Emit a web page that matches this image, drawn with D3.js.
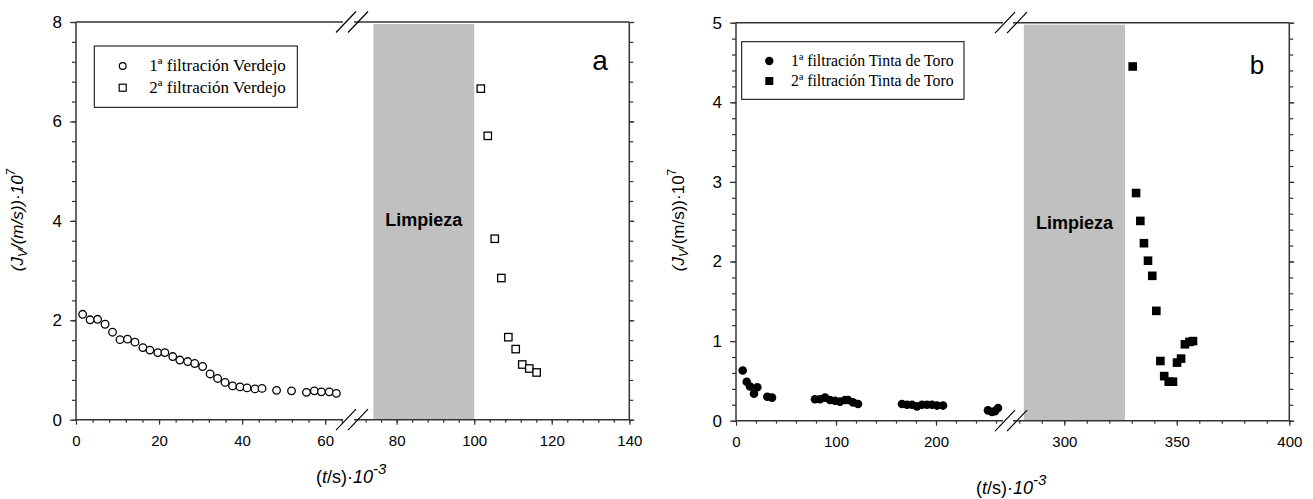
<!DOCTYPE html>
<html>
<head>
<meta charset="utf-8">
<script src="https://cdn.jsdelivr.net/npm/d3@7"></script>
<style>
  body { margin: 0; background: #fff; }
  svg text { font-family: "Liberation Sans", Arial, sans-serif; fill: #000; }
  .legend text { font-family: "Liberation Serif", "Times New Roman", serif; }
</style>
</head>
<body>
<svg id="chart" width="1313" height="499"></svg>
<script>
// panel a - Verdejo (t in s·10^-3, J in m/s·10^7)
const verdejo1T = [1.6, 3.4, 5.2, 7.0, 8.8, 10.6, 12.4, 14.2, 16.1, 17.8, 19.7, 21.4, 23.3, 25.0, 26.9, 28.6,
  30.5, 32.3, 34.1, 35.9, 37.7, 39.5, 41.2, 43.1, 44.8, 48.3, 51.9, 55.5, 57.4, 59.1, 61.0, 62.7];
const verdejo1J = [2.12, 2.01, 2.02, 1.92, 1.76, 1.61, 1.62, 1.56, 1.45, 1.40, 1.35, 1.35, 1.27, 1.20, 1.17, 1.13,
  1.07, 0.92, 0.83, 0.75, 0.68, 0.66, 0.64, 0.62, 0.63, 0.59, 0.58, 0.55, 0.58, 0.56, 0.56, 0.53];
const verdejo2T = [101.7, 103.5, 105.3, 107.0, 108.8, 110.7, 112.4, 114.2, 116.1];
const verdejo2J = [6.66, 5.71, 3.64, 2.85, 1.66, 1.42, 1.11, 1.03, 0.95];
const cleaningA = [74, 100];

// panel b - Tinta de Toro
const toro1T = [6.7, 10.7, 14, 18, 21.3, 31.3, 36, 79, 84, 89, 94, 99, 104, 109, 112, 117, 122,
  166, 171, 176, 181, 186, 191, 196, 201, 207, 252, 256, 259, 262];
const toro1J = [0.63, 0.49, 0.43, 0.34, 0.42, 0.30, 0.29, 0.27, 0.27, 0.29, 0.26, 0.25, 0.24, 0.26, 0.26, 0.23, 0.21,
  0.21, 0.20, 0.20, 0.18, 0.20, 0.20, 0.20, 0.19, 0.19, 0.13, 0.11, 0.12, 0.16];
const toro2T = [330.4, 331.9, 333.8, 335.4, 337.2, 339.1, 340.9, 342.7, 344.4, 346.4, 348.3, 350.1, 351.9, 353.6, 355.6, 357.2];
const toro2J = [4.45, 2.86, 2.51, 2.23, 2.01, 1.82, 1.38, 0.75, 0.56, 0.49, 0.49, 0.73, 0.78, 0.96, 0.99, 1.00];
const cleaningB = [282, 327];

const svg = d3.select('#chart');
const ink = '#333';

const drawPanel = (p) => {
  const g = svg.append('g');

  const xLo = d3.scaleLinear().domain(p.loDomain).range([p.left, p.breakL]);
  const xHi = d3.scaleLinear().domain(p.hiDomain).range([p.breakR, p.right]);
  const x = (t) => t <= p.loDomain[1] ? xLo(t) : xHi(t);
  const y = d3.scaleLinear().domain(p.yDomain).range([p.bottom, p.top]);

  // cleaning band
  g.append('rect')
    .attr('x', xHi(p.clean[0]))
    .attr('y', p.top + 2)
    .attr('width', xHi(p.clean[1]) - xHi(p.clean[0]))
    .attr('height', p.bottom - p.top - 2)
    .attr('fill', '#c0c0c0');

  g.append('text')
    .attr('x', (xHi(p.clean[0]) + xHi(p.clean[1])) / 2)
    .attr('y', p.limpY)
    .attr('text-anchor', 'middle')
    .style('font-size', '18px')
    .style('font-weight', 'bold')
    .text('Limpieza');

  // x axes, minor then major
  const xAxis = (scale, minor, major) => {
    g.append('g')
      .attr('transform', `translate(0,${p.bottom})`)
      .call(d3.axisBottom(scale).tickValues(minor).tickSize(3).tickFormat(''))
      .call(a => a.select('.domain').remove());
    g.append('g')
      .attr('transform', `translate(0,${p.bottom})`)
      .call(d3.axisBottom(scale).tickValues(major).tickSize(5).tickPadding(11).tickFormat(d => d))
      .call(a => a.select('.domain').remove())
      .call(a => a.selectAll('text').style('font-size', '15px'));
  };
  xAxis(xLo, p.loMinor, p.loMajor);
  xAxis(xHi, p.hiMinor, p.hiMajor);

  // y axis left
  g.append('g')
    .attr('transform', `translate(${p.left},0)`)
    .call(d3.axisLeft(y).tickValues(p.yMinor).tickSize(4).tickFormat(''))
    .call(a => a.select('.domain').remove());
  g.append('g')
    .attr('transform', `translate(${p.left},0)`)
    .call(d3.axisLeft(y).tickValues(p.yMajor).tickSize(6).tickPadding(8).tickFormat(d => d))
    .call(a => a.select('.domain').remove())
    .call(a => a.selectAll('text').style('font-size', '17px'));

  // y axis right, ticks only
  g.append('g')
    .attr('transform', `translate(${p.right},0)`)
    .call(d3.axisRight(y).tickValues(p.yMinor).tickSize(4).tickFormat(''))
    .call(a => a.select('.domain').remove());
  g.append('g')
    .attr('transform', `translate(${p.right},0)`)
    .call(d3.axisRight(y).tickValues(p.yMajor).tickSize(5).tickFormat(''))
    .call(a => a.select('.domain').remove());

  g.selectAll('.tick line').attr('stroke', ink).attr('stroke-width', 1.2);

  // frame with broken top and bottom
  const frame = [
    [p.left, p.top, p.breakL, p.top], [p.breakR, p.top, p.right, p.top],
    [p.left, p.bottom, p.breakL, p.bottom], [p.breakR, p.bottom, p.right, p.bottom],
    [p.left, p.top, p.left, p.bottom], [p.right, p.top, p.right, p.bottom]
  ];
  g.selectAll('.frame')
    .data(frame)
    .enter()
    .append('line')
      .attr('x1', d => d[0]).attr('y1', d => d[1])
      .attr('x2', d => d[2]).attr('y2', d => d[3])
      .attr('stroke', ink)
      .attr('stroke-width', 1.5);

  // break marks
  const marks = [];
  [p.top, p.bottom].forEach(yy => p.breakMarks.forEach(cx => marks.push([cx, yy])));
  g.selectAll('.brk')
    .data(marks)
    .enter()
    .append('line')
      .attr('x1', d => d[0] - 10).attr('y1', d => d[1] + 10.5)
      .attr('x2', d => d[0] + 10).attr('y2', d => d[1] - 10.5)
      .attr('stroke', '#000')
      .attr('stroke-width', 1.2);

  const rad = p.filled ? 4.3 : 3.8;
  const sq = p.filled ? 8.6 : 7.4;

  // series 1: circles
  const s1 = p.t1.map((t, i) => ({ t, v: p.j1[i] }));
  g.selectAll('.c1')
    .data(s1)
    .enter()
    .append('circle')
      .attr('cx', d => x(d.t))
      .attr('cy', d => y(d.v))
      .attr('r', rad)
      .attr('fill', p.filled ? '#000' : '#fff')
      .attr('stroke', '#000')
      .attr('stroke-width', p.filled ? 0 : 1.3);

  // series 2: squares
  const s2 = p.t2.map((t, i) => ({ t, v: p.j2[i] }));
  g.selectAll('.s2')
    .data(s2)
    .enter()
    .append('rect')
      .attr('x', d => x(d.t) - sq / 2)
      .attr('y', d => y(d.v) - sq / 2)
      .attr('width', sq)
      .attr('height', sq)
      .attr('fill', p.filled ? '#000' : '#fff')
      .attr('stroke', '#000')
      .attr('stroke-width', p.filled ? 0 : 1.3);

  // legend
  const lg = g.append('g').classed('legend', true);
  lg.append('rect')
    .attr('x', p.legend.x).attr('y', p.legend.y)
    .attr('width', p.legend.w).attr('height', p.legend.h)
    .attr('fill', '#fff').attr('stroke', '#000').attr('stroke-width', 1);
  p.legend.names.forEach((name, i) => {
    const cy = p.legend.y + p.legend.row0 + i * p.legend.step;
    const mx = p.legend.x + p.legend.mx;
    if (i === 0) {
      lg.append('circle').attr('cx', mx).attr('cy', cy)
        .attr('r', p.filled ? 4.2 : 3.4)
        .attr('fill', p.filled ? '#000' : '#fff')
        .attr('stroke', '#000').attr('stroke-width', p.filled ? 0 : 1.2);
    } else {
      const ls = p.filled ? 8 : 7;
      lg.append('rect').attr('x', mx - ls / 2).attr('y', cy - ls / 2)
        .attr('width', ls).attr('height', ls)
        .attr('fill', p.filled ? '#000' : '#fff')
        .attr('stroke', '#000').attr('stroke-width', p.filled ? 0 : 1.2);
    }
    lg.append('text')
      .attr('x', p.legend.x + p.legend.tx)
      .attr('y', cy + 5)
      .style('font-size', p.legend.fs + 'px')
      .text(name);
  });

  // panel letter
  g.append('text')
    .attr('x', p.letter.x).attr('y', p.letter.y)
    .attr('text-anchor', 'middle')
    .style('font-size', p.letter.fs + 'px')
    .text(p.letter.text);

  // x title: (t/s)·10^-3
  const xt = g.append('text')
    .attr('x', p.xTitle.x).attr('y', p.xTitle.y)
    .style('font-size', '18px');
  xt.append('tspan').text('(');
  xt.append('tspan').text('t').style('font-style', 'italic');
  xt.append('tspan').text('/s)');
  xt.append('tspan').text('·10').style('font-style', 'italic');
  xt.append('tspan').text('-3').style('font-style', 'italic').style('font-size', '15px').attr('dy', -9);

  // y title: (J_V/(m/s))·10^7
  const yt = g.append('text')
    .attr('transform', `translate(${p.yTitle.x},${p.yTitle.y}) rotate(-90)`)
    .attr('text-anchor', 'middle')
    .style('font-size', '17px');
  yt.append('tspan').text('(J').style('font-style', 'italic');
  yt.append('tspan').text('V').style('font-size', '12px').style('font-style', 'italic').attr('dy', 4);
  yt.append('tspan').text('/(m/s))·10').style('font-style', p.yTitle.italic ? 'italic' : 'normal').attr('dy', -4);
  yt.append('tspan').text('7').style('font-size', '12px').style('font-style', p.yTitle.italic ? 'italic' : 'normal').attr('dy', -8);
};

drawPanel({
  left: 76, right: 629.3, top: 22, bottom: 419.7,
  loDomain: [0, 64.3], hiDomain: [69, 140], breakL: 343, breakR: 354,
  breakMarks: [346, 358],
  loMinor: d3.range(4, 65, 4), loMajor: [0, 20, 40, 60],
  hiMinor: d3.range(72, 141, 4), hiMajor: [80, 100, 120, 140],
  yDomain: [0, 8], yMinor: d3.range(0, 8.01, 0.4), yMajor: [0, 2, 4, 6, 8],
  clean: cleaningA, limpY: 226,
  t1: verdejo1T, j1: verdejo1J, t2: verdejo2T, j2: verdejo2J, filled: false,
  legend: { x: 94.3, y: 46, w: 203, h: 61.3, row0: 20, step: 21.7, mx: 28.4, tx: 55, fs: 17,
    names: ['1ª filtración Verdejo', '2ª filtración Verdejo'] },
  letter: { x: 600, y: 70, fs: 28, text: 'a' },
  xTitle: { x: 316, y: 483 },
  yTitle: { x: 23, y: 220, italic: true }
});

drawPanel({
  left: 736, right: 1289.3, top: 22.7, bottom: 420.7,
  loDomain: [0, 267], hiDomain: [277.2, 400], breakL: 1003, breakR: 1013,
  breakMarks: [1005, 1017],
  loMinor: d3.range(20, 261, 20), loMajor: [0, 100, 200],
  hiMinor: d3.range(280, 401, 10), hiMajor: [300, 350, 400],
  yDomain: [0, 5], yMinor: d3.range(0, 5.01, 0.2), yMajor: [0, 1, 2, 3, 4, 5],
  clean: cleaningB, limpY: 229,
  t1: toro1T, j1: toro1J, t2: toro2T, j2: toro2J, filled: true,
  legend: { x: 741.7, y: 41.7, w: 222.3, h: 57.6, row0: 19.3, step: 20, mx: 27.6, tx: 49.3, fs: 15.8,
    names: ['1ª filtración Tinta de Toro', '2ª filtración Tinta de Toro'] },
  letter: { x: 1257, y: 74, fs: 26, text: 'b' },
  xTitle: { x: 976, y: 494 },
  yTitle: { x: 684, y: 220, italic: false }
});
</script>
</body>
</html>
